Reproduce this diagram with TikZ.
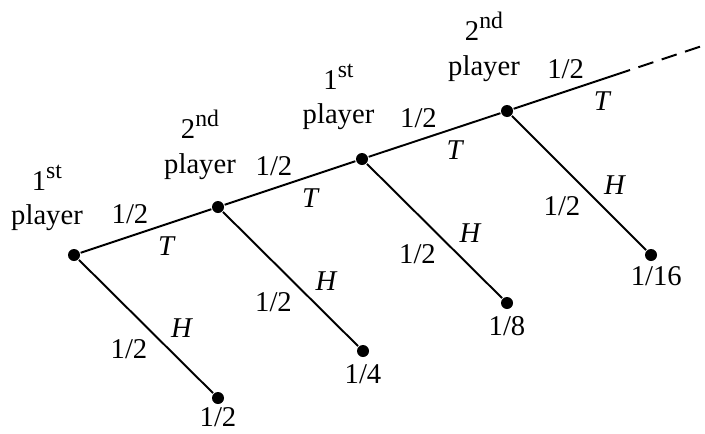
\documentclass[tikz,border=0pt]{standalone}
\usepackage{fontspec}
\setmainfont{Liberation Serif}
\usetikzlibrary{positioning}
\newcommand{\ordsup}[1]{\raisebox{0.42em}{\fontsize{13.5}{13.5}\selectfont #1}}

\begin{document}
\begin{tikzpicture}[
    x=0.02cm, y=-0.02cm,
    font=\fontsize{16.3}{19.6}\selectfont,
    line width=1.1pt,
    dot/.style={circle, fill, inner sep=0pt, minimum size=0.24cm},
    who/.style={align=center, inner sep=0pt},
    val/.style={inner sep=1pt},
    tprob/.style={pos=0.5, shift={(-16,-17)}, inner sep=0pt},
    tlab/.style={pos=0.5, shift={(21,15)}, inner sep=0pt},
    hlab/.style={pos=0.5, shift={(36,2)}, inner sep=0pt},
    hprob/.style={pos=0.5, shift={(-17,23)}, inner sep=0pt}
  ]
    \useasboundingbox (0,0) rectangle (705,433);
    % decision points
    \node[dot] (n1) at (74,255) {};
    \node[dot] (n2) at (218,207) {};
    \node[dot] (n3) at (362,159) {};
    \node[dot] (n4) at (507,111) {};
    \coordinate (e1) at (630,70);
    \coordinate (e2) at (705,45);
    % end points
    \node[dot] (p1) at (218,398) {};
    \node[dot] (p2) at (363,351) {};
    \node[dot] (p3) at (507,303) {};
    \node[dot] (p4) at (651,255) {};
    \node[val, below=0pt of p1] (v1) {1/2};
    \node[val, below=2pt of p2] (v2) {1/4};
    \node[val, below=2pt of p3] (v3) {1/8};
    \node[val, below=1pt of p4, xshift=3pt] (v4) {1/16};
    % whose turn
    \node[who] (w1) at (47,198) {1\ordsup{st}\\player};
    \node[who] (w2) at (200,145) {2\ordsup{nd}\\player};
    \node[who] (w3) at (338.5,97) {1\ordsup{st}\\player};
    \node[who] (w4) at (484,47) {2\ordsup{nd}\\player};
    % tails
    \draw (n1) -- node[tprob] {1/2} node[tlab] {\textit{T}} (n2);
    \draw (n2) -- node[tprob] {1/2} node[tlab] {\textit{T}} (n3);
    \draw (n3) -- node[tprob] {1/2} node[tlab] {\textit{T}} (n4);
    \draw (n4) -- node[tprob, pos=0.585] {1/2} node[tlab, pos=0.585] {\textit{T}} (e1);
    \draw[dash pattern=on 9pt off 5pt, dash phase=9pt] (e1) -- (e2);
    % heads
    \draw (n1) -- node[hlab] {\textit{H}} node[hprob] {1/2} (p1);
    \draw (n2) -- node[hlab] {\textit{H}} node[hprob] {1/2} (p2);
    \draw (n3) -- node[hlab] {\textit{H}} node[hprob] {1/2} (p3);
    \draw (n4) -- node[hlab] {\textit{H}} node[hprob] {1/2} (p4);
\end{tikzpicture}
\end{document}
